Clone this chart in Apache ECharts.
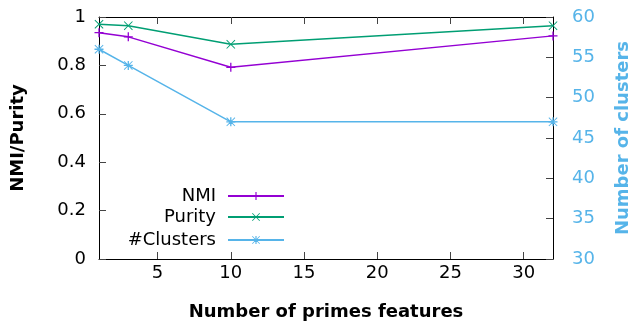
<!DOCTYPE html>
<html>
<head>
<meta charset="utf-8">
<script src="https://cdn.jsdelivr.net/npm/echarts@6/dist/echarts.min.js"></script>
<style>
  html, body { margin: 0; padding: 0; background: #fff; }
  #chart { width: 633px; height: 325px; }
</style>
</head>
<body>
<div id="chart"></div>
<script>
var features = [1, 3, 10, 32];
var nmi = [0.935, 0.918, 0.792, 0.922];
var purity = [0.97, 0.964, 0.887, 0.964];
var clusters = [56, 54, 47, 47];
var xTicks = [5, 10, 15, 20, 25, 30];

var plusPath = 'path://M6,0 H8 V6 H14 V8 H8 V14 H6 V8 H0 V6 H6 Z';
var crossPath = 'path://M0,1 L1,0 L7,6 L13,0 L14,1 L8,7 L14,13 L13,14 L7,8 L1,14 L0,13 L6,7 Z';
var starPath = 'path://M6,0 H8 V6 H14 V8 H8 V14 H6 V8 H0 V6 H6 Z M0,1 L1,0 L7,6 L13,0 L14,1 L8,7 L14,13 L13,14 L7,8 L1,14 L0,13 L6,7 Z';

function pairs(xs, ys) {
    var out = [];
    for (var i = 0; i < xs.length; i++) out.push([xs[i], ys[i]]);
    return out;
}

var font = 'DejaVu Sans';
var fs = 18;
var axisLine = { show: true, onZero: false, lineStyle: { color: '#000', width: 1 } };
var tick = { show: true, inside: true, length: 7, lineStyle: { color: '#444', width: 1 } };

function legendFor(name, top) {
    return {
        data: [name],
        right: 348,
        top: top,
        padding: 0,
        align: 'right',
        orient: 'vertical',
        itemWidth: 56,
        itemHeight: 10,
        textStyle: { fontFamily: font, fontSize: fs, color: '#000', padding: [0, 7, 0, 0] }
    };
}

var myChart = echarts.init(document.getElementById('chart'));
var option = {
    animation: false,
    backgroundColor: '#fff',
    textStyle: { fontFamily: font },
    grid: { left: 99, right: 80, top: 17, bottom: 66, containLabel: false, outerBoundsMode: 'none' },
    legend: [legendFor('NMI', 187), legendFor('Purity', 208), legendFor('#Clusters', 231)],
    xAxis: [{
        type: 'value',
        min: 1,
        max: 32,
        position: 'bottom',
        name: 'Number of primes features',
        nameLocation: 'middle',
        nameGap: 44,
        nameTextStyle: { fontFamily: font, fontSize: fs, fontWeight: 'bold', color: '#000' },
        axisLine: axisLine,
        axisTick: Object.assign({ customValues: xTicks }, tick),
        axisLabel: { customValues: xTicks, fontFamily: font, fontSize: fs, color: '#000', margin: 5 },
        splitLine: { show: false }
    }, {
        type: 'value',
        min: 1,
        max: 32,
        position: 'top',
        axisLine: axisLine,
        axisTick: Object.assign({ customValues: xTicks }, tick),
        axisLabel: { show: false },
        splitLine: { show: false }
    }],
    yAxis: [{
        type: 'value',
        min: 0,
        max: 1,
        interval: 0.2,
        position: 'left',
        name: 'NMI/Purity',
        nameLocation: 'middle',
        nameGap: 72,
        nameTextStyle: { fontFamily: font, fontSize: fs, fontWeight: 'bold', color: '#000' },
        axisLine: axisLine,
        axisTick: tick,
        axisLabel: { fontFamily: font, fontSize: fs, color: '#000', margin: 13 },
        splitLine: { show: false }
    }, {
        type: 'value',
        min: 30,
        max: 60,
        interval: 5,
        position: 'right',
        name: 'Number of clusters',
        nameLocation: 'middle',
        nameGap: 61,
        nameTextStyle: { fontFamily: font, fontSize: fs, fontWeight: 'bold', color: '#56b4e9' },
        axisLine: axisLine,
        axisTick: tick,
        axisLabel: { fontFamily: font, fontSize: fs, color: '#56b4e9', margin: 19 },
        splitLine: { show: false }
    }],
    series: [{
        name: 'NMI',
        type: 'line',
        data: pairs(features, nmi),
        symbol: plusPath,
        symbolSize: 9,
        color: '#9400d3',
        lineStyle: { width: 1.5, color: '#9400d3' },
        itemStyle: { color: '#9400d3', borderWidth: 0 }
    }, {
        name: 'Purity',
        type: 'line',
        data: pairs(features, purity),
        symbol: crossPath,
        symbolSize: 9,
        color: '#009e73',
        lineStyle: { width: 1.5, color: '#009e73' },
        itemStyle: { color: '#009e73', borderWidth: 0 }
    }, {
        name: '#Clusters',
        type: 'line',
        yAxisIndex: 1,
        data: pairs(features, clusters),
        symbol: starPath,
        symbolSize: 9,
        color: '#56b4e9',
        lineStyle: { width: 1.5, color: '#56b4e9' },
        itemStyle: { color: '#56b4e9', borderWidth: 0 }
    }]
};
myChart.setOption(option);
</script>
</body>
</html>
